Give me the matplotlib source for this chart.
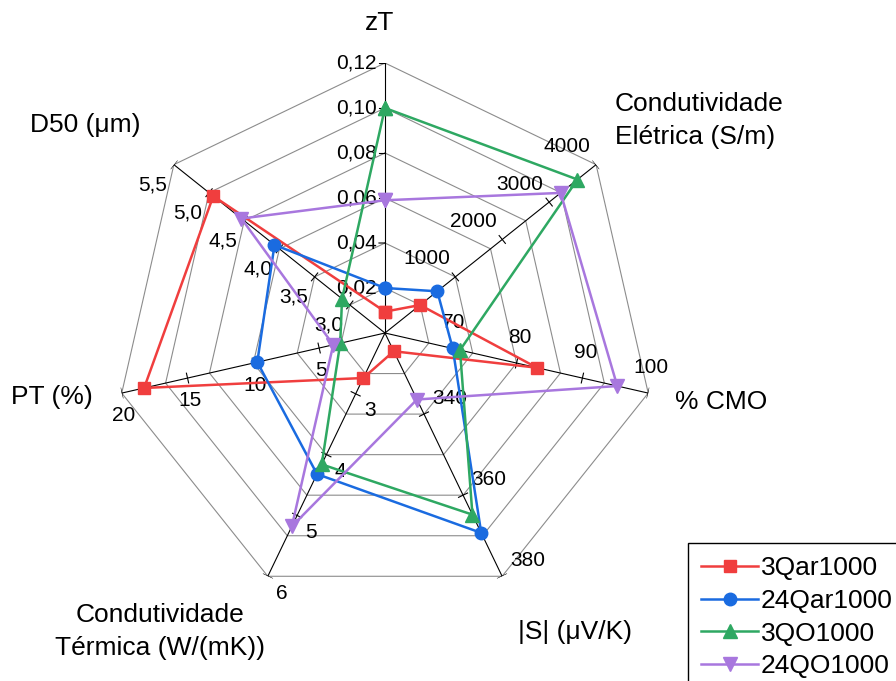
import numpy as np
import matplotlib.pyplot as plt

plt.rcParams['font.family'] = ['Liberation Sans', 'DejaVu Sans']

# eixos do radar (sentido horário a partir do topo)
axis_names = ["zT", "Condutividade\nElétrica (S/m)", "% CMO", "|S| (μV/K)",
              "Condutividade\nTérmica (W/(mK))", "PT (%)", "D50 (μm)"]
axis_min = [0.0, -500, 60, 320, 2, 0, 2.5]
axis_max = [0.12, 4000, 100, 380, 6, 20, 5.5]

tick_values = [
    [0.02, 0.04, 0.06, 0.08, 0.10, 0.12],
    [1000, 2000, 3000, 4000],
    [70, 80, 90, 100],
    [340, 360, 380],
    [3, 4, 5, 6],
    [5, 10, 15, 20],
    [3.0, 3.5, 4.0, 4.5, 5.0, 5.5],
]
tick_labels = [
    ["0,02", "0,04", "0,06", "0,08", "0,10", "0,12"],
    ["1000", "2000", "3000", "4000"],
    ["70", "80", "90", "100"],
    ["340", "360", "380"],
    ["3", "4", "5", "6"],
    ["5", "10", "15", "20"],
    ["3,0", "3,5", "4,0", "4,5", "5,0", "5,5"],
]

# séries
series_names = ["3Qar1000", "24Qar1000", "3QO1000", "24QO1000"]
s_3qar = [0.0095, 248, 83.1, 324.5, 2.74, 18.3, 4.94]
s_24qar = [0.020, 615, 70.3, 369.3, 4.32, 9.7, 4.07]
s_3qo = [0.100, 3603, 71.4, 364.8, 4.16, 3.4, 3.11]
s_24qo = [0.059, 3245, 95.3, 336.4, 5.18, 3.93, 4.54]
series_values = [s_3qar, s_24qar, s_3qo, s_24qo]
series_colors = ["#F03E3E", "#1A6BE0", "#2EA862", "#A877DE"]
series_markers = ["s", "o", "^", "v"]
series_ms = [8.5, 9, 10, 10]

# posições dos textos (offset em pixels)
tick_offsets = [(-8, 0), (-29, 18), (3, 26), (26, 16), (14, -17), (2, -22), (-21, -20)]
tick_ha = ["right", "center", "center", "center", "center", "center", "center"]
title_offsets = [(-5, 40), (19, 44), (27, -9), (73, -56), (-108, -55), (-29, -4), (-33, 40)]
title_ha = ["center", "left", "left", "center", "center", "right", "right"]

fig = plt.figure(figsize=(8.96, 6.81), dpi=100)
ax = fig.add_axes([0.1283, 0.1145, 0.6027, 0.793], projection='polar')
ax.set_theta_offset(np.pi / 2)
ax.set_theta_direction(-1)
ax.set_ylim(0, 1)
ax.set_xticks([])
ax.set_yticks([])
ax.grid(False)
ax.spines['polar'].set_visible(False)
ax.patch.set_visible(False)

n = len(axis_names)
angles = np.arange(n) * 2 * np.pi / n
closed = np.r_[angles, angles[0]]

# anéis do heptágono
for k in range(1, 7):
    ax.plot(closed, [k / 6] * (n + 1), color="#8c8c8c", lw=0.8, zorder=1)

h = 5 / 270
for i, a in enumerate(angles):
    ax.plot([a, a], [0, 1], color="black", lw=0.8, zorder=2)
    lo, hi = axis_min[i], axis_max[i]
    for v, lab in zip(tick_values[i], tick_labels[i]):
        r = (v - lo) / (hi - lo)
        da = np.arctan(h / r)
        rr = np.hypot(r, h)
        if i == 0:
            ax.plot([a, a - 1.2 * da], [r, np.hypot(r, 1.2 * h)], color="black", lw=0.8, zorder=2)
        else:
            ax.plot([a - da, a + da], [rr, rr], color="black", lw=0.8, zorder=2)
        ax.annotate(lab, xy=(a, r), xytext=tick_offsets[i], textcoords='offset pixels',
                    ha=tick_ha[i], va="center", fontsize=15, annotation_clip=False)
    ax.annotate(axis_names[i], xy=(a, 1), xytext=title_offsets[i], textcoords='offset pixels',
                ha=title_ha[i], va="center", multialignment=("center" if i == 4 else "left"),
                fontsize=19, linespacing=1.45, annotation_clip=False)

for name, vals, c, m, ms in zip(series_names, series_values, series_colors, series_markers, series_ms):
    norm = [(v - lo) / (hi - lo) for v, lo, hi in zip(vals, axis_min, axis_max)]
    ax.plot(closed, np.r_[norm, norm[0]], color=c, lw=1.8, marker=m, ms=ms,
            label=name, clip_on=False, zorder=3)

fig.legend(loc="upper left", bbox_to_anchor=(688 / 896, 1 - 543 / 681), fontsize=19,
           frameon=True, fancybox=False, edgecolor="black", framealpha=1,
           borderaxespad=0, borderpad=0.5, handlelength=2.15, handletextpad=0.1,
           labelspacing=0.33)

fig.savefig("out.png", dpi=100)
